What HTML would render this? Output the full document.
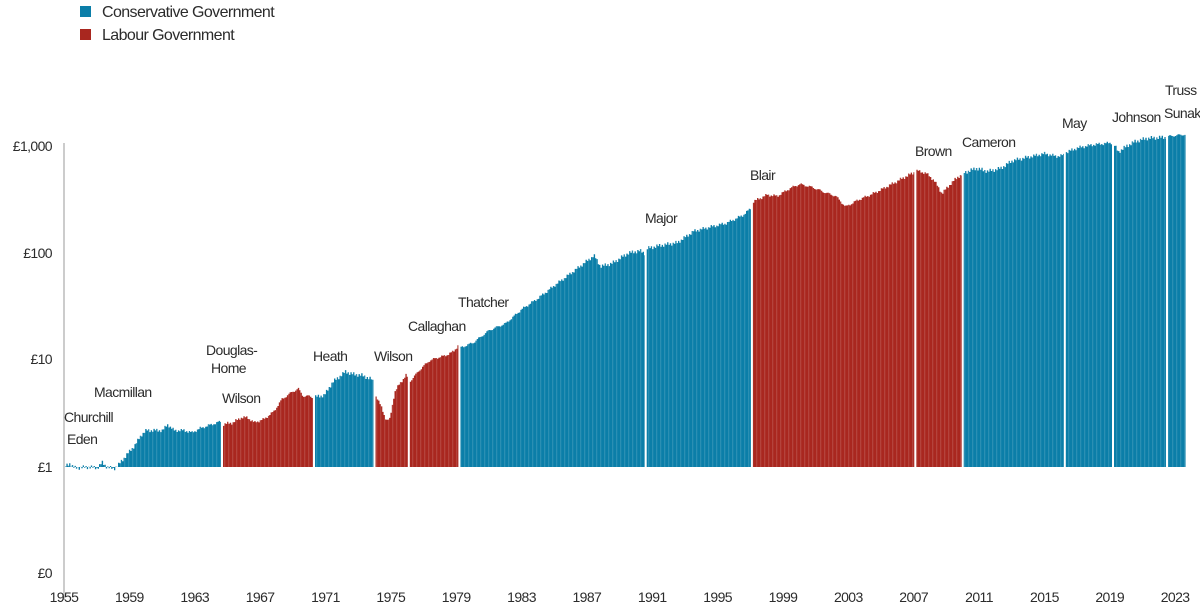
<!DOCTYPE html>
<html><head><meta charset="utf-8"><style>
body{margin:0;background:#fff;}
svg text{font-family:"Liberation Sans",sans-serif;fill:#2b2b2b;letter-spacing:-0.6px;}
</style></head><body>
<svg id="c" width="1200" height="610" xmlns="http://www.w3.org/2000/svg">
<defs>
<pattern id="st" width="4" height="10" patternUnits="userSpaceOnUse"><rect x="0" y="0" width="1.3" height="10" fill="#fff" opacity="0.13"/></pattern>
</defs>
<rect x="80" y="6" width="11" height="11" fill="#0b7ea8"/>
<text x="102" y="17" font-size="16">Conservative Government</text>
<rect x="80" y="29" width="11" height="11" fill="#a9271f"/>
<text x="102" y="40" font-size="16">Labour Government</text>
<g id="bars"></g>
<line x1="64" y1="143" x2="64" y2="600" stroke="#999" stroke-width="1"/>
<g font-size="14" text-anchor="end">
<text x="52" y="151">£1,000</text><text x="52" y="258">£100</text><text x="52" y="364">£10</text><text x="52" y="472">£1</text><text x="52" y="578">£0</text>
</g>
<g id="xl" font-size="14" text-anchor="middle"></g>
<g font-size="14">
<text x="64" y="422">Churchill</text><text x="67" y="444">Eden</text><text x="94" y="397">Macmillan</text>
<text x="206" y="355">Douglas-</text><text x="211" y="373">Home</text><text x="222" y="403">Wilson</text>
<text x="313" y="361">Heath</text><text x="374" y="361">Wilson</text><text x="408" y="331">Callaghan</text>
<text x="458" y="307">Thatcher</text><text x="645" y="223">Major</text><text x="750" y="180">Blair</text>
<text x="915" y="156">Brown</text><text x="962" y="147">Cameron</text><text x="1062" y="128">May</text>
<text x="1112" y="122">Johnson</text><text x="1165" y="95">Truss</text><text x="1164" y="118">Sunak</text>
</g>
</svg>
<script>
var X=function(t){return 64+(t-1955)*16.34};
var Y=function(v){return 467-107*Math.log10(v)};
var xl=document.getElementById('xl');
for(var yr=1955;yr<=2023;yr+=4){var t=document.createElementNS('http://www.w3.org/2000/svg','text');t.setAttribute('x',X(yr));t.setAttribute('y',602);t.textContent=yr;xl.appendChild(t);}
var segs=[
['b',1955,1964.67,[[1955,1],[1955.3,1.08],[1955.6,0.98],[1956.5,1],[1957,0.98],[1957.3,1.1],[1957.6,1.0],[1958,0.96],[1958.3,1.05],[1958.8,1.3],[1959.3,1.6],[1959.7,2.0],[1960,2.2],[1960.5,2.2],[1961,2.2],[1961.3,2.5],[1961.7,2.2],[1962.3,2.2],[1962.8,2.1],[1963.3,2.3],[1964,2.5],[1964.67,2.7]]],
['r',1964.67,1970.3,[[1964.67,2.5],[1965.3,2.6],[1965.8,2.9],[1966.2,2.9],[1966.6,2.6],[1967.2,2.8],[1967.8,3.3],[1968.3,4.3],[1968.9,5.0],[1969.3,5.4],[1969.6,4.6],[1970,4.6],[1970.3,4.4]]],
['b',1970.3,1974.0,[[1970.3,4.5],[1970.9,4.7],[1971.4,6.2],[1972.2,7.8],[1972.6,7.4],[1973.2,7.2],[1973.8,6.6],[1974.0,5.8]]],
['r',1974.0,1976.1,[[1974.0,4.8],[1974.4,3.6],[1974.7,2.7],[1974.9,2.8],[1975.2,5.0],[1975.5,6.0],[1975.9,7.2],[1976.1,6.6]]],
['r',1976.1,1979.2,[[1976.1,6.2],[1976.7,8.0],[1977.3,9.8],[1977.8,10.5],[1978.3,11],[1978.8,12],[1979.2,14.5]]],
['b',1979.2,1990.6,[[1979.2,13],[1980,14.5],[1981,19],[1982,22],[1983,30],[1984,38],[1985,50],[1986,65],[1987,85],[1987.4,95],[1987.8,75],[1988.5,80],[1989.5,100],[1990.2,105],[1990.6,98]]],
['b',1990.6,1997.1,[[1990.6,110],[1991.5,118],[1992.5,125],[1993.5,160],[1994.5,175],[1995.5,190],[1996.5,225],[1997.1,270]]],
['r',1997.1,2007.1,[[1997.1,300],[1998,350],[1998.6,340],[1999.5,410],[2000,440],[2000.8,410],[2001.5,370],[2002.2,340],[2002.8,270],[2003.5,310],[2004.5,360],[2005.5,430],[2006.5,520],[2007.1,580]]],
['r',2007.1,2010.0,[[2007.1,590],[2007.7,560],[2008.2,480],[2008.7,360],[2009.2,440],[2009.7,520],[2010.0,540]]],
['b',2010.0,2016.25,[[2010,560],[2010.8,620],[2011.5,580],[2012.3,620],[2013,730],[2014,790],[2015,850],[2015.7,800],[2016.25,830]]],
['b',2016.25,2019.2,[[2016.25,870],[2017,960],[2017.8,1020],[2018.5,1050],[2019.2,1080]]],
['b',2019.2,2022.5,[[2019.2,1050],[2019.5,880],[2020,1000],[2020.5,1100],[2021.2,1180],[2022,1200],[2022.5,1210]]],
['b',2022.5,2023.7,[[2022.5,1230],[2023.7,1290]]]
];
function interp(p,t){for(var i=0;i<p.length-1;i++){if(t<=p[i+1][0]){var f=(t-p[i][0])/(p[i+1][0]-p[i][0]||1);return Math.pow(10,Math.log10(p[i][1])+f*(Math.log10(p[i+1][1])-Math.log10(p[i][1])));}}return p[p.length-1][1];}
var g=document.getElementById('bars'),h='';
segs.forEach(function(s){var x0=X(s[1])+1,x1=X(s[2])-1,pts=[[x0,467]];
for(var x=x0;x<=x1;x+=1.36){var t=1955+(x-64)/16.34;var v=interp(s[3],t)*(1+0.025*Math.sin(x*2.3)+0.02*Math.sin(x*0.7));pts.push([x,Y(v)]);pts.push([x+1.36>x1?x1:x+1.36,Y(v)]);}
pts.push([x1,467]);var d=pts.map(function(p){return p[0].toFixed(1)+','+p[1].toFixed(1)}).join(' ');
var col=s[0]=='b'?'#0b7ea8':'#a9271f';
h+='<polygon points="'+d+'" fill="'+col+'"/><polygon points="'+d+'" fill="url(#st)"/>';});
g.innerHTML=h;
</script>
</body></html>
